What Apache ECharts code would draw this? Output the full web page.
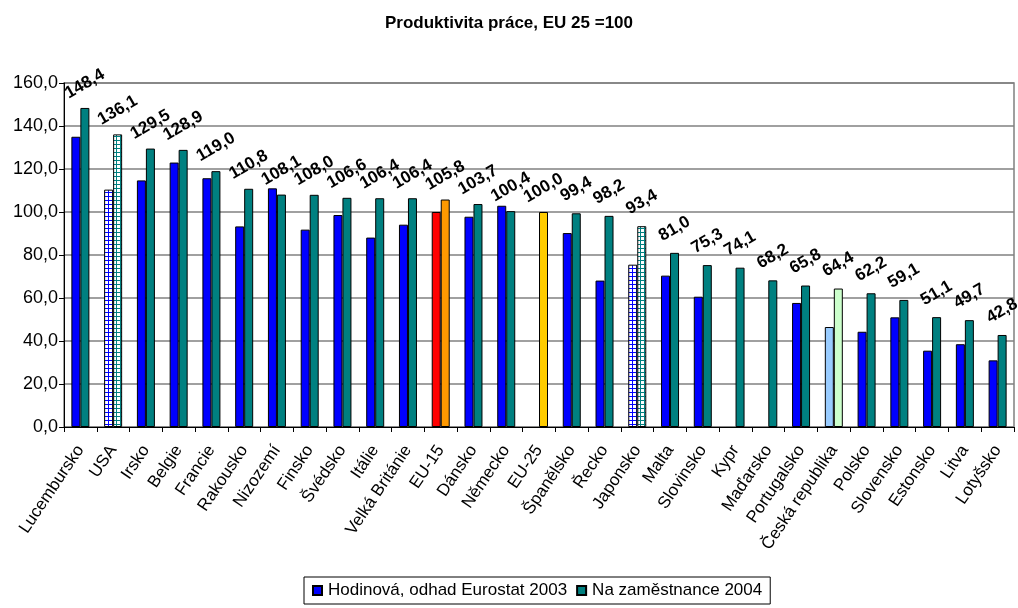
<!DOCTYPE html>
<html>
<head>
<meta charset="utf-8">
<script src="https://cdn.jsdelivr.net/npm/echarts@6/dist/echarts.min.js"></script>
<style>
html, body { margin: 0; padding: 0; background: #fff; }
#chart { width: 1018px; height: 608px; }
</style>
</head>
<body>
<div id="chart"></div>
<script>
// Produktivita práce, EU 25 = 100
var categories = ['Lucembursko', 'USA', 'Irsko', 'Belgie', 'Francie', 'Rakousko', 'Nizozemí', 'Finsko',
    'Švédsko', 'Itálie', 'Velká Británie', 'EU-15', 'Dánsko', 'Německo', 'EU-25', 'Španělsko', 'Řecko',
    'Japonsko', 'Malta', 'Slovinsko', 'Kypr', 'Maďarsko', 'Portugalsko', 'Česká republika', 'Polsko',
    'Slovensko', 'Estonsko', 'Litva', 'Lotyšsko'];

var hodinova2003 = [135.0, 110.4, 114.7, 123.0, 115.7, 93.3, 111.0, 91.8, 98.6, 88.1, 94.1, 100.0, 97.8, 102.9,
    null, 90.2, 68.1, 75.5, 70.4, 60.6, null, null, 57.7, 46.5, 44.3, 51.0, 35.5, 38.5, 31.0];

var naZamestnance2004 = [148.4, 136.1, 129.5, 128.9, 119.0, 110.8, 108.1, 108.0, 106.6, 106.4, 106.4, 105.8, 103.7, 100.4,
    100.0, 99.4, 98.2, 93.4, 81.0, 75.3, 74.1, 68.2, 65.8, 64.4, 62.2, 59.1, 51.1, 49.7, 42.8];

var yTicks = [0, 20, 40, 60, 80, 100, 120, 140, 160];

function gridPattern(line, cell) {
    var c = document.createElement('canvas');
    c.width = cell; c.height = cell;
    var ctx = c.getContext('2d');
    ctx.fillStyle = '#ffffff';
    ctx.fillRect(0, 0, cell, cell);
    ctx.fillStyle = line;
    ctx.fillRect(0, 0, cell, 1);
    ctx.fillRect(0, 0, 1, cell);
    return { image: c, repeat: 'repeat' };
}

// zvláštní barvy pro vybrané země
var special1 = {
    'USA': gridPattern('#0000ff', 4),
    'Japonsko': gridPattern('#0000ff', 4),
    'EU-15': '#ff0000',
    'Česká republika': '#99ccff'
};
var special2 = {
    'USA': gridPattern('#008080', 4),
    'Japonsko': gridPattern('#008080', 4),
    'EU-15': '#ff9900',
    'EU-25': '#ffcc00',
    'Česká republika': '#ccffcc'
};

function buildData(values, special) {
    return values.map(function (v, i) {
        var c = special[categories[i]];
        if (v === null) return '-';
        return c ? { value: v, itemStyle: { color: c } } : v;
    });
}

function fmt(v) {
    return Number(v).toFixed(1).replace('.', ',');
}

var font = 'Arial, "Liberation Sans", sans-serif';

var chart = echarts.init(document.getElementById('chart'));
var option = {
    animation: false,
    textStyle: { fontFamily: font },
    title: {
        text: 'Produktivita práce, EU 25 =100',
        left: 'center',
        top: 10,
        textStyle: { fontFamily: font, fontSize: 17, fontWeight: 'bold', color: '#000' }
    },
    legend: {
        left: 304,
        top: 577,
        padding: [5, 8, 5, 8],
        borderColor: '#000',
        borderWidth: 1,
        itemWidth: 9,
        itemHeight: 9,
        itemGap: 9,
        icon: 'rect',
        textStyle: { fontFamily: font, fontSize: 17, color: '#000', padding: [0, 0, 0, 1] },
        data: ['Hodinová, odhad Eurostat 2003', 'Na zaměstnance 2004']
    },
    grid: {
        left: 64,
        right: 4,
        top: 83,
        bottom: 181,
        show: true,
        borderColor: '#808080',
        borderWidth: 1.5
    },
    xAxis: {
        type: 'category',
        data: categories,
        axisLine: { lineStyle: { color: '#000', width: 1 } },
        axisTick: { show: true, interval: 0, length: 5, lineStyle: { color: '#000' } },
        axisLabel: {
            interval: 0,
            rotate: 56,
            margin: 20,
            fontSize: 17,
            color: '#000',
            fontFamily: font
        }
    },
    yAxis: {
        type: 'value',
        min: yTicks[0],
        max: yTicks[yTicks.length - 1],
        interval: yTicks[1] - yTicks[0],
        axisLine: { show: true, lineStyle: { color: '#000' } },
        axisTick: { show: true, length: 5, lineStyle: { color: '#000' } },
        axisLabel: {
            formatter: fmt,
            fontSize: 18,
            color: '#000',
            margin: 6,
            fontFamily: font
        },
        splitLine: { lineStyle: { color: '#808080', width: 1.5 } }
    },
    series: [
        {
            name: 'Hodinová, odhad Eurostat 2003',
            type: 'bar',
            barWidth: 9,
            barGap: '0%',
            itemStyle: { color: '#0000ff', borderColor: '#000', borderWidth: 1 },
            data: buildData(hodinova2003, special1)
        },
        {
            name: 'Na zaměstnance 2004',
            type: 'bar',
            barWidth: 9,
            itemStyle: { color: '#008080', borderColor: '#000', borderWidth: 1 },
            label: {
                show: true,
                position: 'top',
                distance: 24,
                rotate: 30,
                align: 'center',
                verticalAlign: 'middle',
                fontSize: 17,
                fontWeight: 'bold',
                color: '#000',
                fontFamily: font,
                formatter: function (p) { return fmt(p.value); }
            },
            data: buildData(naZamestnance2004, special2)
        }
    ]
};
chart.setOption(option);
</script>
</body>
</html>
